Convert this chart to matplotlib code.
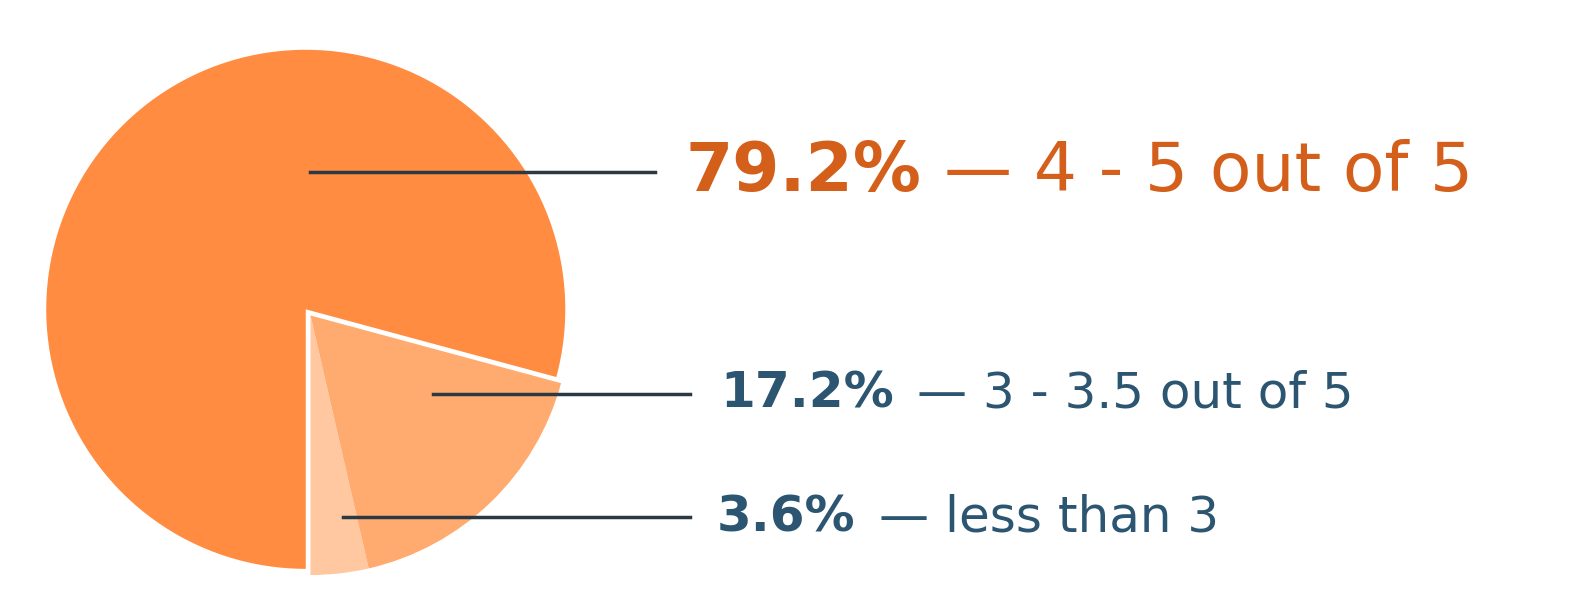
import matplotlib
matplotlib.use("Agg")
import matplotlib.pyplot as plt
from matplotlib.lines import Line2D

values = [79.2, 3.6, 17.2]
colors = ["#FF8C40", "#FFC8A0", "#FFAA6E"]
pcts = ["79.2%", "3.6%", "17.2%"]
descs = ["— 4 - 5 out of 5", "— less than 3", "— 3 - 3.5 out of 5"]

W, H = 1571, 612
fig = plt.figure(figsize=(W/100, H/100), dpi=100)
ax = fig.add_axes([38/W, (H-588)/H, 545/W, 545/H])
ax.pie(values, colors=colors, startangle=-15.12, counterclock=True,
       explode=[0.03, 0, 0], wedgeprops=dict(linewidth=0))
ax.set_aspect("equal")
ax.set_xlim(-1.05, 1.05); ax.set_ylim(-1.05, 1.05)
ax.axis("off")

lines = [((310, 655), 172), ((343, 690), 517), ((433, 690), 394)]
textx = [685, 717, 720]
tcolors = ["#D45F1A", "#2B5570", "#2B5570"]
sizes = [49, 36, 36]
renderer = fig.canvas.get_renderer()
for i in range(3):
    (x0, x1), y = lines[i]
    fig.add_artist(Line2D([x0/W, x1/W], [1-y/H, 1-y/H], color="#2B3A42", lw=2.5))
    t = fig.text(textx[i]/W, 1-y/H, pcts[i], fontsize=sizes[i], fontweight="bold",
                 color=tcolors[i], va="center", ha="left")
    bb = t.get_window_extent(renderer)
    fig.text(bb.x1/W + 0.015, 1-y/H, descs[i], fontsize=sizes[i], color=tcolors[i],
             va="center", ha="left")

fig.savefig("out.png", dpi=100)
